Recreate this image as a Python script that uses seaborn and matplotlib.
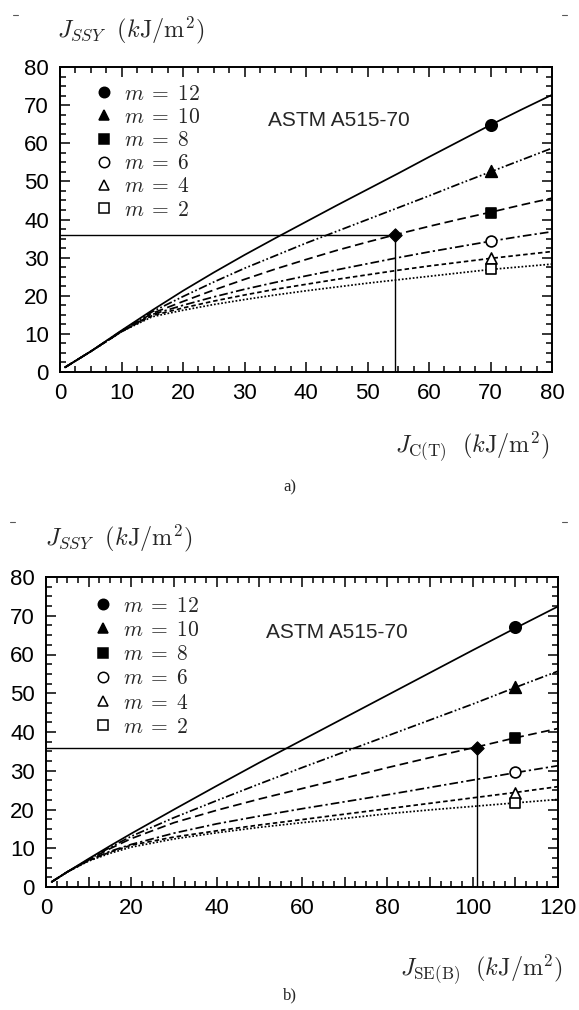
import matplotlib
matplotlib.use("Agg")
import matplotlib.pyplot as plt
import seaborn as sns
from matplotlib.lines import Line2D
from matplotlib.ticker import MultipleLocator, FixedLocator, FixedFormatter

# ---------------- data ----------------
m_labels = [r"$m\;=\;12$", r"$m\;=\;10$", r"$m\;=\;8$",
            r"$m\;=\;6$", r"$m\;=\;4$", r"$m\;=\;2$"]

# panel a) J_C(T)
x_a = [0.8, 5, 10, 15, 20, 25, 30, 35, 40, 45, 50, 55, 60, 65, 70, 75, 80]
m12_a = [1.2, 5.4, 10.9, 16.2, 21.3, 26.1, 30.7, 35.1, 39.4, 43.7, 47.9, 52.1, 56.4, 60.6, 64.8, 68.8, 72.7]
m10_a = [1.2, 5.4, 10.8, 15.8, 19.8, 23.6, 27.2, 30.5, 33.8, 36.9, 40.0, 43.1, 46.2, 49.4, 52.5, 55.6, 58.7]
m8_a = [1.2, 5.4, 10.6, 15.4, 18.5, 21.5, 24.3, 27.0, 29.5, 31.9, 34.1, 36.2, 38.2, 40.1, 41.9, 43.8, 45.6]
m6_a = [1.2, 5.4, 10.6, 15.1, 17.5, 19.7, 21.7, 23.5, 25.2, 26.8, 28.4, 30.0, 31.5, 32.9, 34.3, 35.6, 36.8]
m4_a = [1.2, 5.4, 10.6, 14.8, 16.8, 18.6, 20.2, 21.7, 23.0, 24.3, 25.5, 26.7, 27.8, 28.8, 29.8, 30.7, 31.6]
m2_a = [1.2, 5.4, 10.6, 14.5, 16.2, 17.7, 19.0, 20.2, 21.3, 22.3, 23.3, 24.2, 25.1, 26.0, 26.9, 27.6, 28.3]
mark_x_a = 70
mark_y_a = [64.8, 52.6, 41.8, 34.4, 29.8, 27.0]
jc_a = 54.5
jssy_a = 36.0

# panel b) J_SE(B)
x_b = [1.3, 5, 10, 15, 20, 30, 40, 50, 60, 70, 80, 90, 100, 110, 120]
m12_b = [1.3, 3.9, 7.3, 10.6, 13.8, 20.0, 26.1, 32.1, 37.9, 43.7, 49.5, 55.3, 61.1, 66.8, 72.4]
m10_b = [1.3, 3.9, 7.1, 10.2, 13.1, 17.9, 22.3, 26.6, 30.8, 34.9, 39.0, 43.1, 47.2, 51.5, 55.7]
m8_b = [1.3, 3.9, 7.0, 9.9, 12.5, 16.6, 19.8, 22.7, 25.4, 28.1, 30.8, 33.4, 35.9, 38.5, 40.9]
m6_b = [1.3, 3.9, 6.9, 9.2, 11.0, 13.9, 16.3, 18.3, 20.2, 22.0, 23.8, 25.7, 27.6, 29.5, 31.3]
m4_b = [1.3, 3.9, 6.8, 9.0, 10.8, 12.9, 14.5, 16.0, 17.4, 18.8, 20.2, 21.6, 23.0, 24.4, 25.9]
m2_b = [1.3, 3.9, 6.7, 8.7, 10.3, 12.4, 14.0, 15.4, 16.6, 17.7, 18.9, 19.9, 20.8, 21.7, 22.6]
mark_x_b = 110
mark_y_b = [67.0, 51.6, 38.5, 29.6, 24.3, 21.7]
jc_b = 101.0
jssy_b = 36.0

y_ticks = [0, 10, 20, 30, 40, 50, 60, 70, 80]
x_ticks_a = [0, 10, 20, 30, 40, 50, 60, 70, 80]
x_ticks_b = [0, 10, 20, 30, 40, 50, 60, 70, 80, 90, 100, 110, 120]
x_ticklabels_b = ["0", "", "20", "", "40", "", "60", "", "80", "", "100", "", "120"]

# ---------------- style ----------------
sns.set_style("ticks")
plt.rcParams['font.family'] = ['Liberation Sans', 'DejaVu Sans']
plt.rcParams['mathtext.fontset'] = 'cm'
plt.rcParams['axes.edgecolor'] = 'black'
plt.rcParams['xtick.color'] = 'black'
plt.rcParams['ytick.color'] = 'black'

line_styles = ['-',
               (0, (5, 1.4, 1, 1.4, 1, 1.4)),
               (0, (5, 2.6)),
               (0, (5, 1.8, 1.3, 1.8)),
               (0, (2.6, 1.7)),
               (0, (1, 1.1))]
markers = ['o', '^', 's', 'o', '^', 's']
filled = [True, True, True, False, False, False]
msizes = [8.2, 8.4, 7.8, 7.8, 8.0, 7.4]

W, H = 579, 1010
fig = plt.figure(figsize=(W / 100, H / 100), dpi=100)
fig.patch.set_facecolor('white')

ax_a = fig.add_axes([60 / W, 1 - 372 / H, 492 / W, 305 / H])
ax_b = fig.add_axes([46 / W, 1 - 887 / H, 512 / W, 310 / H])


def draw_panel(ax, x, curves, mx, mys, jc, jssy, xmax, xticks, xticklabels,
               leg_anchor, leg_spacing):
    for y, ls in zip(curves, line_styles):
        sns.lineplot(x=x, y=y, ax=ax, color='black', linewidth=1.25,
                     linestyle=ls, zorder=3)
    # reference lines to the critical point
    ax.plot([0, jc], [jssy, jssy], color='black', lw=1.0, zorder=2)
    ax.plot([jc, jc], [0, jssy], color='black', lw=1.0, zorder=2)
    sns.scatterplot(x=[jc], y=[jssy], ax=ax, marker='D', s=46, color='black',
                    edgecolor='black', linewidth=0.8, zorder=6)
    for yv, mk, fl, ms in zip(mys, markers, filled, msizes):
        sns.scatterplot(x=[mx], y=[yv], ax=ax, marker=mk, s=ms ** 2,
                        color='black', facecolor='black' if fl else 'white',
                        edgecolor='black', linewidth=1.2, zorder=6)
    ax.set_xlim(0, xmax)
    ax.set_ylim(0, 80)
    ax.xaxis.set_major_locator(FixedLocator(xticks))
    ax.xaxis.set_major_formatter(FixedFormatter(xticklabels))
    ax.yaxis.set_major_locator(FixedLocator(y_ticks))
    ax.xaxis.set_minor_locator(MultipleLocator(2.5))
    ax.yaxis.set_minor_locator(MultipleLocator(2.5))
    ax.tick_params(which='both', direction='in', top=True, right=True,
                   width=1.1, color='black')
    ax.tick_params(which='major', length=7, labelsize=16, pad=8)
    ax.tick_params(which='minor', length=4)
    for lab in ax.get_xticklabels() + ax.get_yticklabels():
        lab.set_family(['Liberation Sans', 'DejaVu Sans'])
    for sp in ax.spines.values():
        sp.set_linewidth(1.4)
        sp.set_color('black')
    ax.set_xlabel('')
    ax.set_ylabel('')
    handles = []
    for mk, fl in zip(markers, filled):
        handles.append(Line2D([], [], ls='none', marker=mk, markersize=7.5,
                              color='black',
                              markerfacecolor='black' if fl else 'white',
                              markeredgecolor='black', markeredgewidth=1.1))
    ax.legend(handles, m_labels, loc='upper left', bbox_to_anchor=leg_anchor,
              frameon=False, handlelength=0.8, handletextpad=0.55,
              borderpad=0, borderaxespad=0, labelspacing=leg_spacing,
              prop={'size': 15.5})


draw_panel(ax_a, x_a, [m12_a, m10_a, m8_a, m6_a, m4_a, m2_a],
           mark_x_a, mark_y_a, jc_a, jssy_a, 80, x_ticks_a,
           [str(v) for v in x_ticks_a], (0.072, 0.945), 0.1)
draw_panel(ax_b, x_b, [m12_b, m10_b, m8_b, m6_b, m4_b, m2_b],
           mark_x_b, mark_y_b, jc_b, jssy_b, 120, x_ticks_b,
           x_ticklabels_b, (0.094, 0.94), 0.15)

# annotations
fig.text(338.5 / W, 1 - 120 / H, "ASTM A515-70", ha='center', va='center',
         fontsize=15, family=['Liberation Sans', 'DejaVu Sans'])
fig.text(337 / W, 1 - 632 / H, "ASTM A515-70", ha='center', va='center',
         fontsize=15, family=['Liberation Sans', 'DejaVu Sans'])

ylab = r"$J_{SSY}\ \ (k\mathrm{J/m^{2}})$"
fig.text(57 / W, 1 - 30 / H, ylab, ha='left', va='center', fontsize=17.5)
fig.text(45 / W, 1 - 538 / H, ylab, ha='left', va='center', fontsize=17.5)
fig.text(395 / W, 1 - 447 / H, r"$J_{\mathrm{C(T)}}\ \ (k\mathrm{J/m^{2}})$",
         ha='left', va='center', fontsize=17.5)
fig.text(400 / W, 1 - 970 / H, r"$J_{\mathrm{SE(B)}}\ \ (k\mathrm{J/m^{2}})$",
         ha='left', va='center', fontsize=17.5)

fig.text(290 / W, 1 - 487 / H, "a)", ha='center', va='center', fontsize=12,
         family=['Liberation Serif', 'DejaVu Serif'])
fig.text(290 / W, 1 - 995 / H, "b)", ha='center', va='center', fontsize=12,
         family=['Liberation Serif', 'DejaVu Serif'])

# small scan marks at the page corners
for (x0, x1, yy) in [(13, 18, 15), (562, 567, 15), (10, 15, 522), (562, 567, 522)]:
    fig.add_artist(Line2D([x0 / W, x1 / W], [1 - yy / H, 1 - yy / H],
                          color='0.35', lw=0.8))

fig.savefig("out.png", dpi=100, facecolor='white')
